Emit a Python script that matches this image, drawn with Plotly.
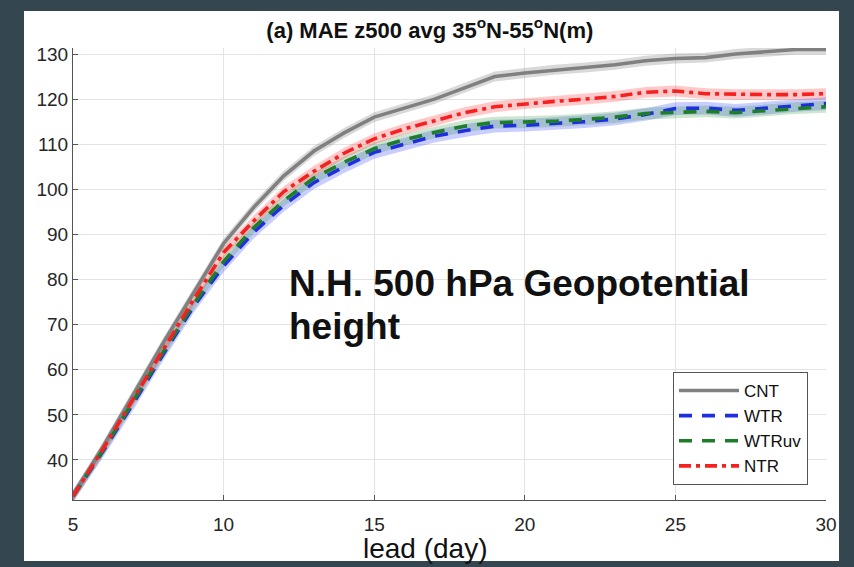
import plotly.graph_objects as go

days = list(range(5, 31))
cnt = [32, 43, 54.5, 66, 77, 88, 96, 103, 108.5, 112.5, 116, 118, 120, 122.5, 125,
       125.8, 126.5, 127, 127.6, 128.5, 129, 129.2, 130, 130.5, 131, 131]
wtr = [32, 42, 52.5, 63.5, 74, 83, 90.5, 96.5, 101.5, 105, 108.2, 110, 111.8, 113, 114,
       114.2, 114.6, 115, 115.6, 116.6, 117.9, 118, 117.5, 118, 118.6, 119]
wtruv = [32, 42.2, 53, 64, 74.5, 84, 91.5, 97.5, 102.5, 106, 109, 111, 112.6, 114, 114.8,
         114.9, 115.1, 115.5, 116, 116.8, 117, 117.3, 117, 117.5, 118, 118.3]
ntr = [32, 42.5, 53.5, 64.5, 75.5, 86, 93, 99.5, 104, 108, 111.2, 113.4, 115.2, 117, 118.3,
       119, 119.5, 120, 120.6, 121.5, 121.8, 121.2, 121, 121, 121, 121.2]
names = ["CNT", "WTR", "WTRuv", "NTR"]
spread = {"CNT": 1.1, "WTR": 1.4, "WTRuv": 1.3, "NTR": 1.2}

series = {"CNT": cnt, "WTR": wtr, "WTRuv": wtruv, "NTR": ntr}
line_col = {"CNT": "#808080", "WTR": "#1f2fe0", "WTRuv": "#1e7d2a", "NTR": "#f52020"}
band_col = {"CNT": "rgba(128,128,128,0.30)", "WTR": "rgba(40,60,255,0.25)",
            "WTRuv": "rgba(30,140,40,0.22)", "NTR": "rgba(255,40,40,0.25)"}
dash = {"CNT": "solid", "WTR": "13px,10px", "WTRuv": "13px,10px", "NTR": "12px,5px,4px,5px"}

fig = go.Figure()
for n in names:
    y = series[n]
    s = spread[n]
    upper = [v + s for v in y]
    lower = [v - s for v in y]
    fig.add_trace(go.Scatter(x=days + days[::-1], y=upper + lower[::-1], fill="toself",
                             fillcolor=band_col[n], line=dict(width=0), hoverinfo="skip",
                             showlegend=False, mode="lines"))
for n in names:
    fig.add_trace(go.Scatter(x=days, y=series[n], mode="lines", name=n,
                             line=dict(color=line_col[n], width=3.6, dash=dash[n])))

L, R, T, B = 73, 826, 48, 500
W, H = 854, 567
pw, ph = R - L, B - T
def px(x):
    return (x - L) / pw
def py(y):
    return (B - y) / ph

fig.add_shape(type="rect", xref="paper", yref="paper", x0=px(24), x1=px(839), y0=py(561), y1=py(11),
              fillcolor="white", line=dict(width=0), layer="below")

font = "Liberation Sans, Arial, Helvetica, sans-serif"
fig.update_layout(
    width=W, height=H,
    margin=dict(l=L, r=W - R, t=T, b=H - B),
    paper_bgcolor="#34464f", plot_bgcolor="rgba(0,0,0,0)",
    font=dict(family=font, size=19, color="#262626"),
    title=dict(text="<b>(a) MAE z500 avg 35<sup>o</sup>N-55<sup>o</sup>N(m)</b>", x=px(452), xanchor="center",
               y=1 - 30 / H, yanchor="middle", yref="container", font=dict(size=22, color="#111")),
    xaxis=dict(range=[5, 30], tickvals=[5, 10, 15, 20, 25, 30], showgrid=True, gridcolor="#e3e3e3",
               gridwidth=1, zeroline=False, showline=True, linecolor="#555", linewidth=1,
               ticks="inside", ticklen=5, tickcolor="#555", ticklabelstandoff=7,
               tickfont=dict(size=19, color="#262626")),
    yaxis=dict(range=[31.13, 131.33], tickvals=list(range(40, 131, 10)), showgrid=True, gridcolor="#e3e3e3",
               gridwidth=1, zeroline=False, showline=True, linecolor="#555", linewidth=1,
               ticks="inside", ticklen=5, tickcolor="#555", tickfont=dict(size=19, color="#262626")),
    legend=dict(x=px(808), y=py(485), xanchor="right", yanchor="bottom", bgcolor="white",
                bordercolor="#555", borderwidth=1, font=dict(size=17, color="#111"),
                tracegroupgap=0, itemwidth=60),
    showlegend=True,
)
fig.add_annotation(xref="paper", yref="paper", x=px(287), y=py(283), xanchor="left", yanchor="middle",
                   text="<b>N.H. 500 hPa Geopotential</b>", align="left", showarrow=False,
                   font=dict(size=37, color="#111"))
fig.add_annotation(xref="paper", yref="paper", x=px(287), y=py(326), xanchor="left", yanchor="middle",
                   text="<b>height</b>", align="left", showarrow=False,
                   font=dict(size=37, color="#111"))
fig.add_annotation(xref="paper", yref="paper", x=px(425), y=py(548), xanchor="center", yanchor="middle",
                   text="lead (day)", showarrow=False, font=dict(size=28, color="#111"))

fig.write_html("out.html")
